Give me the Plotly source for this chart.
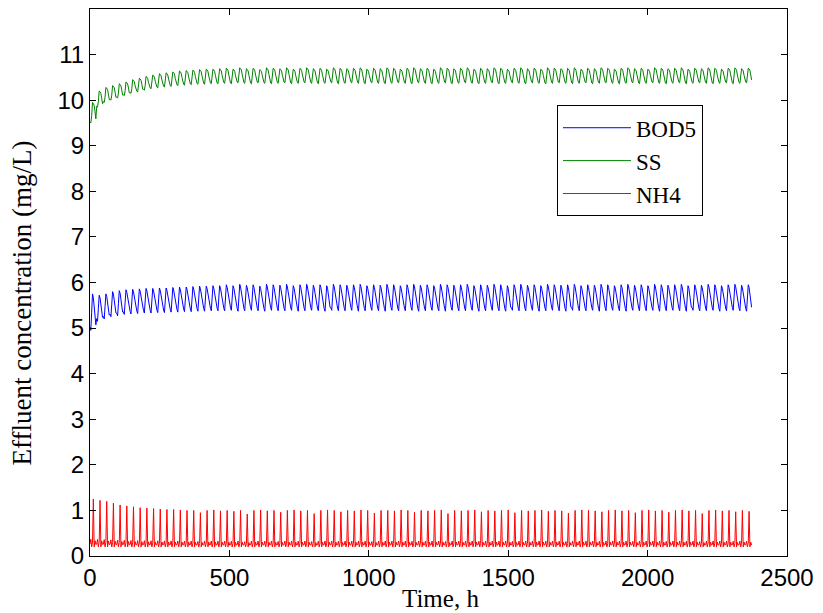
import numpy as np
import plotly.graph_objects as go

# ---------------- data ----------------
hours_in_day = [0, 3, 6, 9, 12, 15, 18, 21]   # sample hours within each day
n_days = 99

# daily shape of each signal (0 = daily low, 1 = daily high)
ss_profile = [0.05, 0.0, 0.35, 1.0, 0.95, 0.85, 0.55, 0.2]
bod_profile = [0.1, 0.0, 0.5, 1.0, 0.9, 0.7, 0.4, 0.15]
nh4_profile = [0.06, 0.16, 0.0, 0.1, 1.0, 0.0, 0.13, 0.05]

ss_low = [9.50, 9.85, 9.95, 10.00, 10.05, 10.10, 10.15, 10.18, 10.22, 10.25,
          10.27, 10.29, 10.30, 10.32, 10.33, 10.34, 10.35, 10.35, 10.36, 10.36,
          10.37, 10.36, 10.38, 10.37, 10.36, 10.38, 10.37, 10.36, 10.37, 10.38,
          10.36, 10.37, 10.38, 10.37, 10.36, 10.37, 10.38, 10.36, 10.37, 10.38,
          10.37, 10.36, 10.38, 10.37, 10.36, 10.37, 10.38, 10.37, 10.36, 10.38,
          10.37, 10.36, 10.37, 10.38, 10.36, 10.37, 10.38, 10.37, 10.36, 10.37,
          10.38, 10.36, 10.37, 10.38, 10.37, 10.36, 10.38, 10.37, 10.36, 10.37,
          10.38, 10.37, 10.36, 10.37, 10.38, 10.36, 10.37, 10.38, 10.37, 10.36,
          10.37, 10.38, 10.36, 10.37, 10.38, 10.37, 10.36, 10.37, 10.38, 10.36,
          10.37, 10.38, 10.37, 10.36, 10.37, 10.38, 10.36, 10.37, 10.38]
ss_high = [9.95, 10.20, 10.28, 10.32, 10.36, 10.40, 10.45, 10.48, 10.52, 10.55,
           10.58, 10.60, 10.62, 10.64, 10.65, 10.66, 10.67, 10.68, 10.68, 10.69,
           10.70, 10.68, 10.71, 10.69, 10.70, 10.67, 10.71, 10.70, 10.69, 10.71,
           10.68, 10.70, 10.71, 10.69, 10.70, 10.68, 10.71, 10.70, 10.69, 10.70,
           10.71, 10.68, 10.70, 10.69, 10.71, 10.70, 10.68, 10.70, 10.71, 10.69,
           10.70, 10.68, 10.71, 10.70, 10.69, 10.70, 10.71, 10.68, 10.70, 10.69,
           10.71, 10.70, 10.68, 10.70, 10.71, 10.69, 10.70, 10.68, 10.71, 10.70,
           10.69, 10.70, 10.71, 10.68, 10.70, 10.69, 10.71, 10.70, 10.68, 10.70,
           10.71, 10.69, 10.70, 10.68, 10.71, 10.70, 10.69, 10.70, 10.71, 10.68,
           10.70, 10.69, 10.71, 10.70, 10.68, 10.70, 10.71, 10.69, 10.70]

bod_low = [4.95, 5.15, 5.20, 5.25, 5.27, 5.30, 5.31, 5.32, 5.33, 5.33,
           5.34, 5.34, 5.35, 5.35, 5.36, 5.36, 5.37, 5.37, 5.38, 5.38,
           5.38, 5.39, 5.37, 5.38, 5.39, 5.38, 5.37, 5.39, 5.38, 5.38,
           5.39, 5.37, 5.38, 5.39, 5.38, 5.37, 5.39, 5.38, 5.38, 5.39,
           5.37, 5.38, 5.39, 5.38, 5.37, 5.39, 5.38, 5.38, 5.39, 5.37,
           5.38, 5.39, 5.38, 5.37, 5.39, 5.38, 5.38, 5.39, 5.37, 5.38,
           5.39, 5.38, 5.37, 5.39, 5.38, 5.38, 5.39, 5.37, 5.38, 5.39,
           5.38, 5.37, 5.39, 5.38, 5.38, 5.39, 5.37, 5.38, 5.39, 5.38,
           5.37, 5.39, 5.38, 5.38, 5.39, 5.37, 5.38, 5.39, 5.38, 5.37,
           5.39, 5.38, 5.38, 5.39, 5.37, 5.38, 5.39, 5.38, 5.37]
bod_high = [5.75, 5.72, 5.75, 5.80, 5.82, 5.84, 5.85, 5.86, 5.87, 5.87,
            5.88, 5.88, 5.89, 5.90, 5.90, 5.91, 5.92, 5.92, 5.93, 5.93,
            5.95, 5.93, 5.96, 5.94, 5.95, 5.92, 5.96, 5.95, 5.94, 5.96,
            5.93, 5.95, 5.96, 5.94, 5.95, 5.93, 5.96, 5.95, 5.94, 5.95,
            5.96, 5.93, 5.95, 5.94, 5.96, 5.95, 5.93, 5.95, 5.96, 5.94,
            5.95, 5.93, 5.96, 5.95, 5.94, 5.95, 5.96, 5.93, 5.95, 5.94,
            5.96, 5.95, 5.93, 5.95, 5.96, 5.94, 5.95, 5.93, 5.96, 5.95,
            5.94, 5.95, 5.96, 5.93, 5.95, 5.94, 5.96, 5.95, 5.93, 5.95,
            5.96, 5.94, 5.95, 5.93, 5.96, 5.95, 5.94, 5.95, 5.96, 5.93,
            5.95, 5.94, 5.96, 5.95, 5.93, 5.95, 5.96, 5.94, 5.95]

nh4_low = 0.20
nh4_high = [1.25, 1.22, 1.20, 1.16, 1.12, 1.10, 1.08, 1.06, 1.05, 1.04,
            1.03, 1.02, 1.02, 1.01, 1.00, 1.00, 0.95, 1.00, 1.01, 0.99,
            1.00, 0.98, 1.00, 0.92, 1.00, 1.01, 0.99, 1.00, 0.96, 1.00,
            1.01, 0.99, 1.00, 0.93, 1.00, 1.01, 1.00, 0.97, 1.00, 0.99,
            1.01, 1.00, 0.94, 1.00, 1.00, 0.99, 1.01, 1.00, 0.96, 1.00,
            0.99, 1.00, 1.01, 0.93, 1.00, 0.99, 1.00, 1.01, 0.97, 1.00,
            0.99, 1.00, 1.01, 0.95, 1.00, 0.99, 1.00, 1.01, 0.98, 1.00,
            0.99, 0.94, 1.00, 1.01, 1.00, 0.99, 0.97, 1.00, 1.01, 0.99,
            1.00, 0.95, 1.00, 1.01, 0.99, 1.00, 0.96, 1.00, 1.01, 0.99,
            1.00, 0.93, 1.00, 1.01, 0.99, 1.00, 0.97, 1.00, 0.98]

x_ticks = [0, 500, 1000, 1500, 2000, 2500]
y_ticks = list(range(0, 12))


def build(profile, lows, highs):
    t, v = [], []
    for d in range(n_days):
        lo = lows[d] if isinstance(lows, list) else lows
        hi = highs[d]
        for h, p in zip(hours_in_day, profile):
            t.append(d * 24 + h)
            v.append(lo + p * (hi - lo))
    return t, v


t_bod, v_bod = build(bod_profile, bod_low, bod_high)
t_ss, v_ss = build(ss_profile, ss_low, ss_high)
t_nh4, v_nh4 = build(nh4_profile, nh4_low, nh4_high)

fig = go.Figure()
fig.add_trace(go.Scatter(x=t_bod, y=v_bod, mode="lines", name="BOD5",
                         line=dict(color="rgb(0,0,255)", width=1)))
fig.add_trace(go.Scatter(x=t_ss, y=v_ss, mode="lines", name="SS",
                         line=dict(color="rgb(0,128,0)", width=1)))
fig.add_trace(go.Scatter(x=t_nh4, y=v_nh4, mode="lines", name="NH4",
                         line=dict(color="rgb(255,0,0)", width=1)))

axis_common = dict(showgrid=False, zeroline=False, showline=True, linecolor="black",
                   linewidth=1.2, mirror="ticks", ticks="inside", ticklen=6,
                   tickcolor="black", tickfont=dict(family="Liberation Sans", size=24, color="black"))

serif = "Liberation Serif"
fig.update_layout(
    width=823, height=613,
    margin=dict(l=90, r=36, t=9, b=57),
    paper_bgcolor="white", plot_bgcolor="white",
    showlegend=True,
    legend=dict(x=0.67, y=0.824, xanchor="left", yanchor="top",
                bgcolor="white", bordercolor="black", borderwidth=1,
                font=dict(family=serif, size=23, color="black"),
                itemwidth=68, tracegroupgap=0),
    xaxis=dict(range=[0, 2500], tickvals=x_ticks, **axis_common),
    yaxis=dict(range=[0, 12], tickvals=y_ticks, **axis_common),
    annotations=[
        dict(text="Time, h", xref="paper", yref="paper", x=0.503, y=-0.078,
             xanchor="center", yanchor="middle", showarrow=False,
             font=dict(family=serif, size=25, color="black")),
        dict(text="Effluent concentration (mg/L)", xref="paper", yref="paper",
             x=-0.097, y=0.4625, xanchor="center", yanchor="middle", textangle=-90,
             showarrow=False, font=dict(family=serif, size=27, color="black")),
    ],
)

fig.write_html("out.html")
